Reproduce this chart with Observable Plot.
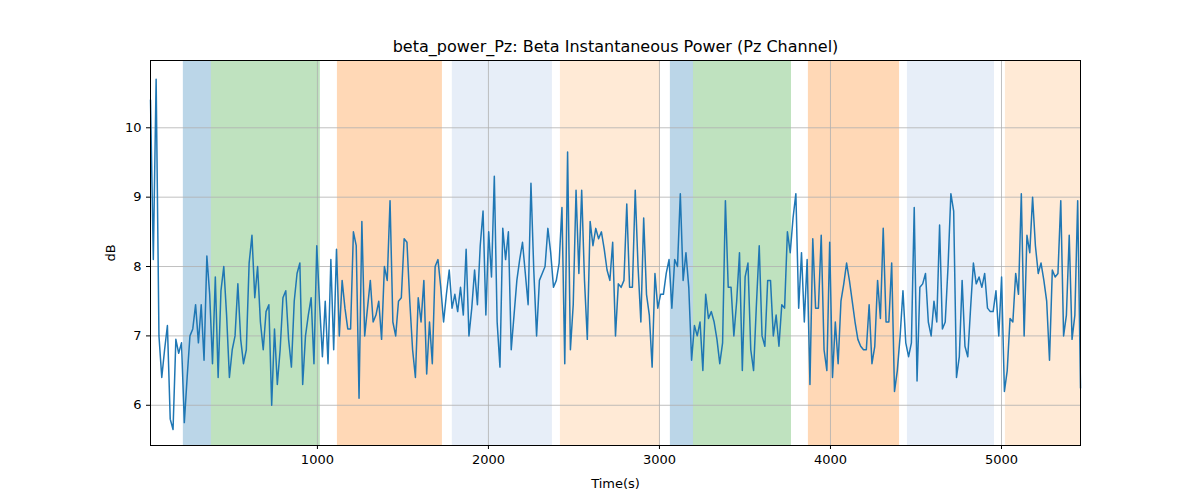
<!DOCTYPE html>
<html><head><meta charset="utf-8">
<script src="https://cdn.jsdelivr.net/npm/d3@7"></script>
<script src="https://cdn.jsdelivr.net/npm/@observablehq/plot@0.6"></script>
<style>body{margin:0;background:#fff;font-family:"DejaVu Sans",sans-serif}</style>
</head><body><div id="chart"></div>
<script>
const values = [10.4,8.1,10.7,7.0,6.4,6.8,7.15,5.8,5.65,6.95,6.75,6.9,5.75,6.4,7.0,7.1,7.45,6.9,7.45,6.65,8.15,7.6,
6.6,7.85,6.4,7.65,8.0,7.3,6.4,6.8,7.0,7.75,6.95,6.6,6.8,8.05,8.45,7.55,8.0,7.2,6.8,7.35,7.45,6.0,7.1,6.3,6.8,7.55,7.65,6.95,6.55,7.5,7.9,8.05,6.3,7.0,7.3,7.55,6.6,8.3,
7.45,6.7,7.5,6.6,8.1,6.8,8.25,7.0,7.8,7.4,
7.1,7.1,8.5,8.3,6.1,8.65,7.0,7.4,7.8,7.2,7.3,7.5,6.95,8.0,7.8,8.95,7.2,7.0,7.5,7.55,8.4,8.35,7.5,6.8,6.4,7.55,7.2,7.8,6.45,7.2,6.6,8.0,8.1,7.7,7.2,7.6,7.95,7.4,7.6,7.35,7.7,
7.3,8.25,7.0,
7.4,7.95,7.45,8.3,8.8,7.3,8.5,7.85,9.3,7.2,6.55,8.55,8.1,8.5,6.8,7.3,7.8,8.1,8.35,7.9,7.45,9.2,7.95,7.0,7.8,7.9,8.0,8.55,8.2,7.7,7.8,8.05,8.85,6.6,
9.65,6.8,7.45,9.1,7.9,9.1,7.8,6.95,8.65,8.3,8.55,8.4,8.5,8.25,7.95,7.8,8.35,7.0,7.75,7.7,7.8,8.9,7.7,7.7,9.1,8.0,7.2,8.7,7.6,7.3,6.55,
7.9,7.4,7.6,7.6,7.9,
8.1,7.4,8.1,8.0,9.05,7.8,8.2,7.7,
6.65,7.15,7.0,7.2,6.5,7.6,7.25,7.35,7.2,6.95,6.6,6.9,8.95,7.7,7.7,7.0,7.5,8.2,6.5,7.85,8.05,6.8,6.5,7.45,8.3,7.0,6.85,7.8,7.8,7.0,7.3,6.85,
7.45,7.4,8.5,8.2,8.7,9.05,
7.4,8.2,7.2,8.1,6.3,8.4,7.4,7.4,8.45,6.8,6.5,8.35,6.4,7.2,6.6,7.5,7.75,8.05,7.8,7.5,7.2,6.95,6.85,6.8,6.8,7.45,6.6,6.85,7.8,7.25,8.55,7.2,7.2,
8.05,6.2,6.5,7.0,7.65,6.9,6.7,6.9,8.85,6.35,7.7,7.75,7.9,7.2,7.0,7.5,7.2,8.6,7.1,7.2,8.0,9.05,8.8,6.4,6.7,7.8,6.85,6.7,7.4,8.05,7.75,7.85,7.7,7.9,
7.4,7.35,7.35,7.65,7.0,7.85,6.2,6.5,7.25,7.2,7.9,7.6,9.05,7.0,8.45,8.2,9.0,8.3,7.9,8.05,7.8,7.5,6.65,7.95,7.85,7.9,8.95,7.0,7.3,8.45,6.95,7.3,8.95,6.25];
const tStart = 24, tEnd = 5462;
const step = (tEnd - tStart) / (values.length - 1);
const series = values.map((v, i) => ({t: tStart + i * step, v}));

const bandStarts = [216, 380, 1117, 1789, 2421, 3064, 3199, 3871, 4450, 5023];
const bandEnds   = [380, 1017, 1731, 2374, 3006, 3199, 3772, 4404, 4959, 5462];
const bandColors = ["#1f77b4","#2ca02c","#ff7f0e","#aec7e8","#ffbb78","#1f77b4","#2ca02c","#ff7f0e","#aec7e8","#ffbb78"];
const bands = bandStarts.map((s, i) => ({s, e: bandEnds[i], c: bandColors[i]}));
const xTicks = [1000, 2000, 3000, 4000, 5000];
const yTicks = [6, 7, 8, 9, 10];

const chart = Plot.plot({
  width: 1200, height: 500,
  marginLeft: 150, marginRight: 120, marginTop: 60, marginBottom: 55,
  style: {fontFamily: "DejaVu Sans", fontSize: "10px", color: "#000"},
  x: {domain: [tStart, tEnd]},
  y: {domain: [5.42, 10.97]},
  marks: [
    Plot.rectX(bands, {x1: "s", x2: "e", fill: "c", fillOpacity: 0.3}),
    Plot.gridX(xTicks, {stroke: "#b0b0b0", strokeOpacity: 1, strokeWidth: 0.8}),
    Plot.gridY(yTicks, {stroke: "#b0b0b0", strokeOpacity: 1, strokeWidth: 0.8}),
    Plot.line(series, {x: "t", y: "v", stroke: "#1f77b4", strokeWidth: 1.5}),
    Plot.frame({stroke: "#000"}),
    Plot.axisX({ticks: xTicks, tickSize: 4, fontSize: 13, tickFormat: d => String(d),
      label: "Time(s)", labelAnchor: "center", labelArrow: "none", labelOffset: 42}),
    Plot.axisY({ticks: yTicks, tickSize: 4, fontSize: 13, tickFormat: d => String(d),
      label: "dB", labelAnchor: "center", labelArrow: "none", labelOffset: 45}),
    Plot.text(["beta_power_Pz: Beta Instantaneous Power (Pz Channel)"], {frameAnchor: "top", dy: -20, fontSize: 16})
  ]
});
document.getElementById("chart").appendChild(chart);
</script></body></html>
